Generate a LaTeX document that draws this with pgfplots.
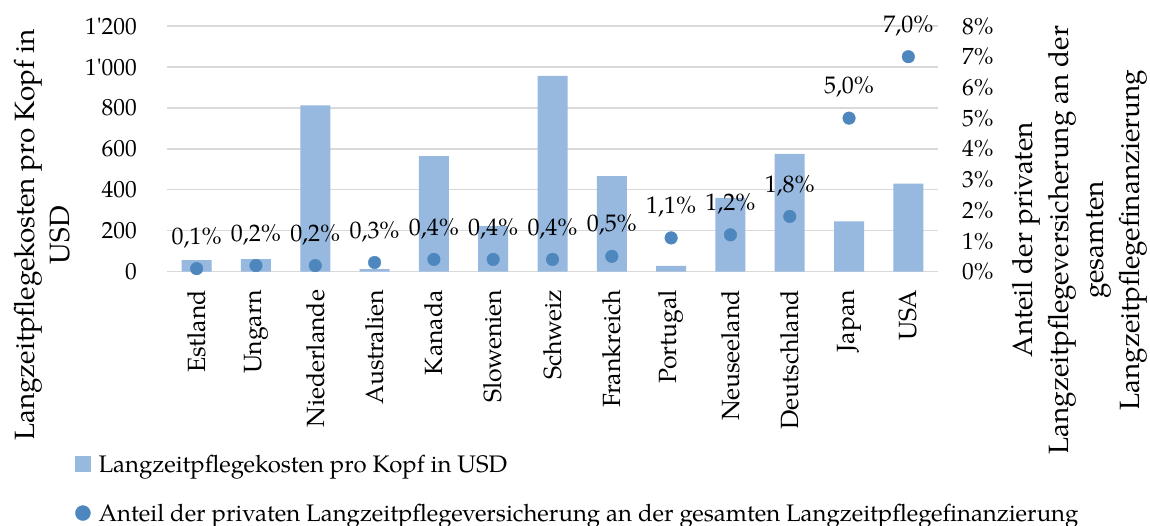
\documentclass[border=0pt]{standalone}
\usepackage{fontspec}
\setmainfont{TeX Gyre Pagella}
\usepackage{pgfplots}
\usepackage{pgfplotstable}
\pgfplotsset{compat=1.18}
\definecolor{barblue}{RGB}{151,185,224}
\definecolor{dotblue}{RGB}{78,134,190}
\definecolor{gridgray}{RGB}{217,217,217}
\newcommand\fs{\fontsize{23.5}{27}\selectfont}
\newcommand\fx{\fontsize{25}{29}\selectfont}
\newcommand\fd{\fontsize{24}{28}\selectfont}
\newcommand\fl{\fontsize{28}{36}\selectfont}
\newcommand\fleg{\fontsize{24}{28}\selectfont}

\pgfplotstableread{
x cost share
0 57 0.1
1 62 0.2
2 812 0.2
3 12 0.3
4 565 0.4
5 222 0.4
6 956 0.4
7 467 0.5
8 28 1.1
9 361 1.2
10 576 1.8
11 246 5.0
12 430 7.0
}\data

\begin{document}
\begin{tikzpicture}
\begin{axis}[
  at={(167bp,254.3bp)}, anchor=south west,
  scale only axis, width=771bp, height=245.7bp,
  xmin=-0.5, xmax=12.5, ymin=0, ymax=1200,
  xtick={0,...,12},
  xticklabels={Estland,Ungarn,Niederlande,Australien,Kanada,Slowenien,Schweiz,Frankreich,Portugal,Neuseeland,Deutschland,Japan,USA},
  ytick={0,200,...,1200},
  yticklabels={0,200,400,600,800,1\textquotesingle000,1\textquotesingle200},
  axis line style={draw=none}, major tick length=0pt,
  ymajorgrids, major grid style={draw=gridgray, line width=1.4bp},
  tick label style={font=\fs, text=black},
  xticklabel style={font=\fx, yshift=-18bp, rotate=90, anchor=east, inner sep=0pt},
  yticklabel style={anchor=east, inner sep=0pt, xshift=-30bp},
  ylabel={Langzeitpflegekosten pro Kopf in\\USD},
  ylabel style={font=\fl, align=center, at={(axis description cs:-0.162,0.149)}, anchor=center},
  clip=false,
]
\addplot[ybar, bar width=30bp, fill=barblue, draw=none] table[x=x, y=cost] {\data};
\end{axis}
\begin{axis}[
  at={(167bp,254.3bp)}, anchor=south west,
  scale only axis, width=771bp, height=245.7bp,
  xmin=-0.5, xmax=12.5, ymin=0, ymax=8,
  axis x line=none, axis y line*=right,
  axis line style={draw=none}, major tick length=0pt,
  ytick={0,...,8},
  yticklabels={0\%,1\%,2\%,3\%,4\%,5\%,6\%,7\%,8\%},
  yticklabel style={font=\fs, text=black, anchor=west, inner sep=0pt, xshift=24bp},
  ylabel={Anteil der privaten\\Langzeitpflegeversicherung an der\\gesamten\\Langzeitpflegefinanzierung},
  ylabel style={font=\fl, align=center, at={(axis description cs:1.184,0.129)}, anchor=center},
  clip=false,
  legend style={at={(axis description cs:-0.1193,-0.744)}, anchor=north west, draw=none, fill=none, inner sep=0pt, row sep=30bp, font=\fleg, nodes={inner sep=0pt}},
  legend cell align=left,
]
\addlegendimage{legend image code/.code={\fill[barblue] (0bp,-7.5bp) rectangle (15bp,7.5bp); \path (22bp,0bp);}}
\addlegendentry{Langzeitpflegekosten pro Kopf in USD}
\addplot[dotblue, only marks, mark=*, mark size=6.3bp, mark options={draw=none, fill=dotblue},
  point meta=y,
  nodes near coords={\pgfmathprintnumber[fixed,fixed zerofill,precision=1,use comma,assume math mode=true]{\pgfplotspointmeta}\%},
  every node near coord/.append style={anchor=center, yshift=31bp, font=\fd, text=black},
  legend image code/.code={\fill[dotblue] (7.5bp,0bp) circle (7.5bp); \path (23bp,0bp);}
] table[x=x, y=share] {\data};
\addlegendentry{Anteil der privaten Langzeitpflegeversicherung an der gesamten Langzeitpflegefinanzierung}
\end{axis}
\pgfresetboundingbox
\path[use as bounding box] (0bp,0bp) rectangle (1150bp,526bp);
\end{tikzpicture}
\end{document}
